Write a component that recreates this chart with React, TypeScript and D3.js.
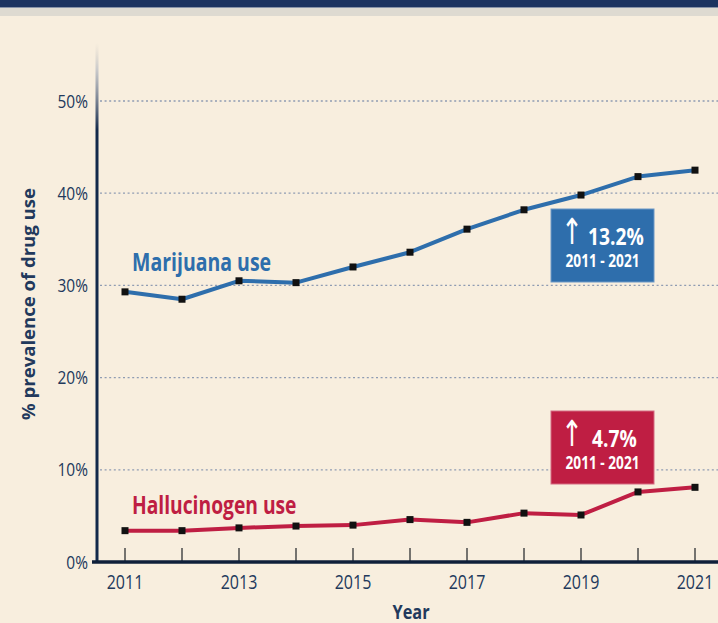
import React from "react";
import * as d3 from "d3";

const years = [2011, 2012, 2013, 2014, 2015, 2016, 2017, 2018, 2019, 2020, 2021];
const marijuana = [29.3, 28.5, 30.5, 30.3, 32.0, 33.6, 36.1, 38.2, 39.8, 41.8, 42.5];
const hallucinogen = [3.4, 3.4, 3.7, 3.9, 4.0, 4.6, 4.3, 5.3, 5.1, 7.6, 8.1];
const yTicks = [0, 10, 20, 30, 40, 50];
const xLabelYears = [2011, 2013, 2015, 2017, 2019, 2021];
const seriesNames = ["Marijuana use", "Hallucinogen use"];
const changes = ["13.2%", "4.7%"];
const period = "2011 - 2021";

const W = 718;
const H = 623;
const BG = "#F8EEDE";
const NAVY = "#12284A";
const TEXT = "#22395C";
const BLUE = "#2E6EAC";
const RED = "#BF1E43";

function CText(props: any) {
  const { x, y, size, sx = 1, anchor = "start", weight = 400, fill = TEXT, rotate = 0, family = "'Open Sans', sans-serif", children } = props;
  return (
    <text
      transform={`translate(${x},${y}) rotate(${rotate}) scale(${sx},1)`}
      fontSize={size}
      fontWeight={weight}
      textAnchor={anchor}
      fill={fill}
      fontFamily={family}
    >
      {children}
    </text>
  );
}

export default function App() {
  const x = d3.scaleLinear().domain([2011, 2021]).range([125, 695]);
  const y = d3.scaleLinear().domain([0, 50]).range([562, 101]);
  const line = d3
    .line<number>()
    .x((_, i) => x(years[i]))
    .y((d) => y(d));

  const series = [
    { vals: marijuana, color: BLUE },
    { vals: hallucinogen, color: RED },
  ];

  const boxes = [
    { x0: 551, y0: 209, color: BLUE, border: "#6C98C6", label: changes[0], numX: 588 },
    { x0: 551, y0: 411, color: RED, border: "#D46A82", label: changes[1], numX: 592 },
  ];

  return (
    <div style={{ position: "absolute", left: 0, top: 0 }}>
      <svg width={W} height={H} style={{ display: "block" }}>
        <defs>
          <linearGradient id="axisFade" x1="0" y1="0" x2="0" y2="1">
            <stop offset="0" stopColor="#C9C6C0" stopOpacity={0} />
            <stop offset="0.3" stopColor="#B8BCC4" stopOpacity={0.7} />
            <stop offset="1" stopColor={NAVY} stopOpacity={1} />
          </linearGradient>
        </defs>
        <rect x={0} y={0} width={W} height={H} fill={BG} />
        <rect x={0} y={0} width={W} height={7} fill="#1C3360" />
        <rect x={0} y={7} width={W} height={1} fill="#8893A8" />
        <rect x={0} y={8} width={W} height={8} fill="#DEDAD1" />

        {/* grid */}
        {yTicks.filter((t) => t > 0).map((t) => (
          <line key={t} x1={100} x2={W} y1={y(t)} y2={y(t)} stroke="#8F9CB2" strokeWidth={1.3} strokeDasharray="2 2.6" />
        ))}

        {/* y axis */}
        <rect x={95.5} y={43} width={3} height={87} fill="url(#axisFade)" />
        <rect x={95.5} y={130} width={3} height={562 - 130} fill={NAVY} />
        {yTicks.map((t) => (
          <CText key={t} x={88} y={y(t) + 6.5} size={18} sx={0.86} anchor="end">
            {t}%
          </CText>
        ))}

        {/* x ticks */}
        {years.map((yr) => (
          <line key={yr} x1={x(yr)} x2={x(yr)} y1={548} y2={562} stroke="#4A4A4A" strokeWidth={1.5} />
        ))}
        <line x1={92} x2={W} y1={562} y2={562} stroke="#0F1F3A" strokeWidth={3.5} />
        {xLabelYears.map((yr) => (
          <CText key={yr} x={x(yr)} y={589} size={20} sx={0.8} anchor="middle">
            {yr}
          </CText>
        ))}

        {/* titles */}
        <CText x={411} y={619} size={19} sx={0.86} weight={700} anchor="middle">
          Year
        </CText>
        <CText x={35} y={304} size={18} sx={1.03} weight={700} anchor="middle" rotate={-90}>
          % prevalence of drug use
        </CText>

        {/* lines */}
        {series.map((s, si) => (
          <g key={si}>
            <path d={line(s.vals) || ""} fill="none" stroke={s.color} strokeWidth={4} strokeLinejoin="round" />
            {s.vals.map((v, i) => (
              <rect key={i} x={x(years[i]) - 3.5} y={y(v) - 3.5} width={7} height={7} fill="#111" />
            ))}
          </g>
        ))}

        {/* series labels */}
        <CText x={132} y={271} size={25} sx={0.78} weight={700} fill={BLUE}>
          {seriesNames[0]}
        </CText>
        <CText x={132} y={514} size={25} sx={0.77} weight={700} fill={RED}>
          {seriesNames[1]}
        </CText>

        {/* annotation boxes */}
        {boxes.map((b, i) => (
          <g key={i}>
            <rect x={b.x0} y={b.y0} width={103} height={73} fill={b.color} stroke={b.border} strokeWidth={1} />
            <CText x={b.x0 + 10} y={b.y0 + 35} size={36} sx={0.72} fill="#fff" family="'DejaVu Sans', sans-serif">
              ↑
            </CText>
            <CText x={b.numX} y={b.y0 + 36} size={24} sx={0.8} weight={700} fill="#fff">
              {b.label}
            </CText>
            <CText x={b.x0 + 51.5} y={b.y0 + 58} size={18} sx={0.76} weight={700} fill="#fff" anchor="middle">
              {period}
            </CText>
          </g>
        ))}
      </svg>
    </div>
  );
}
